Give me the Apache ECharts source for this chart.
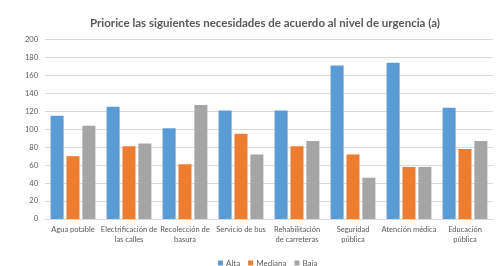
<!DOCTYPE html>
<html>
<head>
<meta charset="utf-8">
<script src="https://cdn.jsdelivr.net/npm/echarts@6/dist/echarts.min.js"></script>
<style>
  html, body { margin: 0; padding: 0; background: #fff; }
  #chart { width: 497px; height: 266px; }
</style>
</head>
<body>
<div id="chart"></div>
<script>
// categories and series
const categories = [
  'Agua potable',
  'Electrificación de\nlas calles',
  'Recolección de\nbasura',
  'Servicio de bus',
  'Rehabilitación\nde carreteras',
  'Seguridad\npública',
  'Atención médica',
  'Educación\npública'
];
const alta = [115, 125, 101, 121, 121, 171, 174, 124];
const mediana = [70, 81, 61, 95, 81, 72, 58, 78];
const baja = [104, 84, 127, 72, 87, 46, 58, 87];

const chart = echarts.init(document.getElementById('chart'));
const txt = '#595959';
const font = 'Lato';

function bar(name, data, color) {
  return {
    name: name,
    type: 'bar',
    data: data,
    itemStyle: { color: color },
    barGap: '22%',
    barCategoryGap: '20%'
  };
}

chart.setOption({
  animation: false,
  title: {
    text: 'Priorice las siguientes necesidades de acuerdo al nivel de urgencia (a)',
    left: 85,
    top: 12,
    textStyle: { fontSize: 11.5, fontWeight: 'bold', color: txt, fontFamily: font }
  },
  legend: {
    top: 254,
    left: 213,
    itemWidth: 5,
    itemHeight: 5,
    itemGap: 8,
    icon: 'rect',
    textStyle: { fontSize: 8, color: txt, fontFamily: font, padding: [0, 0, 0, -2] }
  },
  grid: { left: 45, right: 4, top: 39.5, bottom: 47 },
  xAxis: {
    type: 'category',
    data: categories,
    axisTick: { show: false },
    axisLine: { lineStyle: { color: '#d9d9d9' } },
    axisLabel: { fontSize: 7.5, color: txt, fontFamily: font, interval: 0, lineHeight: 10, margin: 6 }
  },
  yAxis: {
    type: 'value',
    min: 0,
    max: 200,
    interval: 20,
    axisLabel: { fontSize: 7.5, color: txt, fontFamily: font, margin: 7 },
    splitLine: { lineStyle: { color: '#d9d9d9' } }
  },
  series: [
    bar('Alta', alta, '#5b9bd5'),
    bar('Mediana', mediana, '#ed7d31'),
    bar('Baja', baja, '#a5a5a5')
  ]
});
</script>
</body>
</html>
